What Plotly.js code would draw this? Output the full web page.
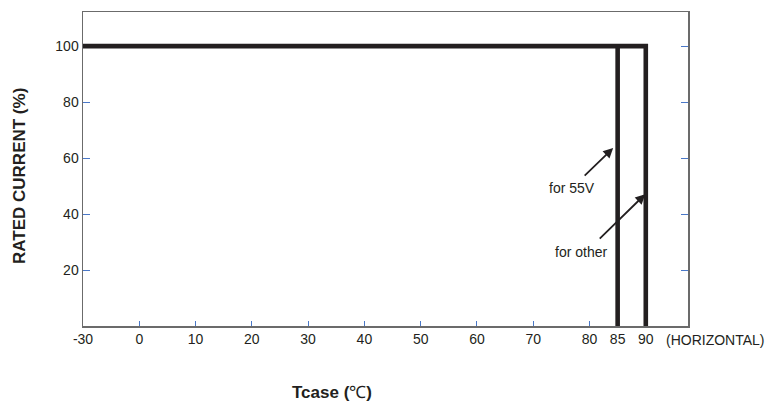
<!DOCTYPE html>
<html>
<head>
<meta charset="utf-8">
<script src="https://cdn.plot.ly/plotly-3.0.1.min.js"></script>
<style>html,body{margin:0;padding:0;background:#fff;}#chart{width:765px;height:408px;}</style>
</head>
<body>
<div id="chart"></div>
<script>
// ---- data (temperatures in °C, current in %) ----
const otherTemp = [-30, 90, 90];
const otherCurrent = [100, 100, 0];
const v55Temp = [85, 85];
const v55Current = [100, 0];
const xTickTemps = [-30, 0, 10, 20, 30, 40, 50, 60, 70, 80, 85, 90];
const xTickLabels = ['-30', '0', '10', '20', '30', '40', '50', '60', '70', '80', '85', '90'];
const yTickVals = [20, 40, 60, 80, 100];
const yTickLabels = ['20', '40', '60', '80', '100'];

// broken axis: the -30..0 segment is drawn compressed (as in the original figure)
function axisPos(t) { return t < 0 ? t / 3 : t; }

const FONT = 'Liberation Sans, Arial, Helvetica, sans-serif';
const TXT = '#231f20';
const LINE = '#231f20';

const traces = [
  {x: otherTemp.map(axisPos), y: otherCurrent, mode: 'lines', type: 'scatter',
   line: {color: LINE, width: 4.6}, hoverinfo: 'skip'},
  {x: v55Temp.map(axisPos), y: v55Current, mode: 'lines', type: 'scatter',
   line: {color: LINE, width: 4.6}, hoverinfo: 'skip'}
];

const layout = {
  width: 765, height: 408,
  margin: {l: 83, r: 77, t: 12, b: 82},
  paper_bgcolor: '#fff', plot_bgcolor: '#fff',
  showlegend: false,
  font: {family: FONT, size: 14, color: TXT},
  xaxis: {
    range: [axisPos(-30), 97.5],
    tickmode: 'array', tickvals: xTickTemps.map(axisPos), ticktext: xTickLabels,
    ticks: 'inside', ticklen: 5, tickcolor: '#4a78c8', tickwidth: 1,
    showline: true, linecolor: '#6b6b6b', linewidth: 1.5, mirror: true,
    showgrid: false, zeroline: false, fixedrange: true,
    tickfont: {family: FONT, size: 14, color: TXT},
    layer: 'below traces'
  },
  yaxis: {
    range: [0, 112.2],
    tickmode: 'array', tickvals: yTickVals, ticktext: yTickLabels,
    ticks: 'inside', ticklen: 7, tickcolor: '#4a78c8', tickwidth: 1,
    showline: true, linecolor: '#6b6b6b', linewidth: 1.5, mirror: 'ticks',
    showgrid: false, zeroline: false, fixedrange: true,
    tickfont: {family: FONT, size: 14, color: TXT},
    layer: 'below traces'
  },
  annotations: [
    {x: axisPos(84.2), y: 63.6, xref: 'x', yref: 'y', ax: -30, ay: 29, text: '',
     showarrow: true, arrowhead: 2, arrowsize: 1.1, arrowwidth: 1.8, arrowcolor: LINE, standoff: 0},
    {x: axisPos(89.9), y: 47.1, xref: 'x', yref: 'y', ax: -47, ay: 46, text: '',
     showarrow: true, arrowhead: 2, arrowsize: 1.1, arrowwidth: 1.8, arrowcolor: LINE, standoff: 0},
    {x: 76.9, y: 49.2, xref: 'x', yref: 'y', text: 'for 55V', showarrow: false,
     xanchor: 'center', yanchor: 'middle', font: {family: FONT, size: 14, color: TXT}},
    {x: 78.5, y: 26.5, xref: 'x', yref: 'y', text: 'for other', showarrow: false,
     xanchor: 'center', yanchor: 'middle', font: {family: FONT, size: 14, color: TXT}},
    {x: 1.0455, y: -0.046, xref: 'paper', yref: 'paper', text: '(HORIZONTAL)', showarrow: false,
     xanchor: 'center', yanchor: 'middle', font: {family: FONT, size: 14, color: TXT}},
    {x: 0.4116, y: -0.213, xref: 'paper', yref: 'paper', text: '<b>Tcase (</b>℃<b>)</b>', showarrow: false,
     xanchor: 'center', yanchor: 'middle', font: {family: FONT, size: 17, color: TXT}},
    {x: -0.1058, y: 0.4777, xref: 'paper', yref: 'paper', text: '<b>RATED CURRENT (%)</b>', showarrow: false,
     textangle: -90, xanchor: 'center', yanchor: 'middle', font: {family: FONT, size: 17, color: TXT}}
  ]
};

Plotly.newPlot('chart', traces, layout, {staticPlot: true, displayModeBar: false});
</script>
</body>
</html>
